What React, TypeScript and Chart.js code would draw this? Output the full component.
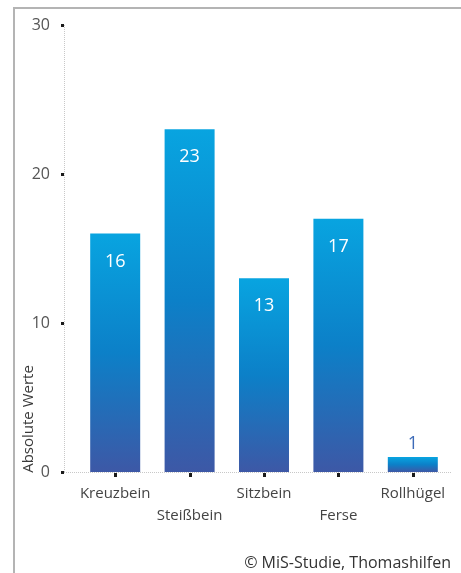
import React, { useEffect, useRef } from "react";
import { Chart, registerables } from "chart.js";

Chart.register(...registerables);

const categories = ["Kreuzbein", "Steißbein", "Sitzbein", "Ferse", "Rollhügel"];
const values = [16, 23, 13, 17, 1];
const yTicks = [0, 10, 20, 30];
const yTitle = "Absolute Werte";
const credit = "© MiS-Studie, Thomashilfen";

const FONT = "'Open Sans', 'Noto Sans', sans-serif";
const AXIS_X = 64;

const decor = {
  id: "decor",
  beforeDraw(chart: any) {
    const c = chart.ctx;
    const area = chart.chartArea;
    c.save();
    c.strokeStyle = "#b4b4b4";
    c.lineWidth = 2;
    c.beginPath();
    c.moveTo(14, 573);
    c.lineTo(14, 8);
    c.lineTo(461, 8);
    c.stroke();
    c.strokeStyle = "#c8c8c8";
    c.lineWidth = 1;
    c.setLineDash([1, 1]);
    c.beginPath();
    c.moveTo(AXIS_X + 0.5, area.top);
    c.lineTo(AXIS_X + 0.5, area.bottom);
    c.moveTo(AXIS_X, area.bottom + 0.5);
    c.lineTo(area.right + 2, area.bottom + 0.5);
    c.stroke();
    c.setLineDash([]);
    c.restore();
  },
  afterDatasetsDraw(chart: any) {
    const c = chart.ctx;
    const area = chart.chartArea;
    const ys = chart.scales.y;
    const xs = chart.scales.x;
    c.save();
    c.fillStyle = "#1a1a1a";
    yTicks.forEach((t) => {
      const py = ys.getPixelForValue(t);
      c.fillRect(AXIS_X - 3, Math.round(py) - 1, 3, 3);
    });
    categories.forEach((_, i) => {
      const px = xs.getPixelForValue(i);
      c.fillRect(Math.round(px) - 1, area.bottom + 1, 3, 4);
    });
    const meta = chart.getDatasetMeta(0);
    c.textAlign = "center";
    c.textBaseline = "middle";
    meta.data.forEach((bar: any, i: number) => {
      const v = values[i];
      c.font = `18px ${FONT}`;
      if (v >= 3) {
        c.fillStyle = "#ffffff";
        c.fillText(String(v), bar.x, bar.y + 28);
      } else {
        c.fillStyle = "#3d6bb8";
        c.fillText(String(v), bar.x, bar.y - 13);
      }
    });
    c.save();
    c.translate(29, 419);
    c.rotate(-Math.PI / 2);
    c.fillStyle = "#3a3a3a";
    c.font = `15px ${FONT}`;
    c.textAlign = "center";
    c.textBaseline = "middle";
    c.fillText(yTitle, 0, 0);
    c.restore();
    c.fillStyle = "#333333";
    c.font = `16px ${FONT}`;
    c.textAlign = "right";
    c.textBaseline = "middle";
    c.fillText(credit, 451, 563);
    c.restore();
  },
};

export default function App() {
  const ref = useRef<HTMLCanvasElement>(null);
  useEffect(() => {
    if (!ref.current) return;
    const chart = new Chart(ref.current, {
      type: "bar",
      data: {
        labels: categories,
        datasets: [
          {
            data: values,
            barPercentage: 0.672,
            categoryPercentage: 1,
            backgroundColor: (ctx: any) => {
              const ch = ctx.chart;
              if (!ch.chartArea || ctx.type !== "data") return "#0a8fd4";
              const ys = ch.scales.y;
              const top = ys.getPixelForValue(ctx.raw);
              const bottom = ys.getPixelForValue(0);
              const g = ch.ctx.createLinearGradient(0, top, 0, bottom);
              g.addColorStop(0, "#08a4e0");
              g.addColorStop(0.5, "#0c80c8");
              g.addColorStop(1, "#3d58a6");
              return g;
            },
            borderWidth: 0,
          },
        ],
      },
      options: {
        responsive: false,
        animation: false,
        layout: { padding: { left: 0, top: 25, right: 11, bottom: 0 } },
        plugins: {
          legend: { display: false },
          tooltip: { enabled: false },
        },
        scales: {
          x: {
            offset: true,
            grid: { display: false, drawTicks: false },
            border: { display: false },
            afterFit: (s: any) => {
              s.height = 101;
            },
            ticks: {
              autoSkip: false,
              maxRotation: 0,
              padding: 11,
              color: "#444444",
              font: { family: FONT, size: 15, lineHeight: 1.45 },
              callback: (_v: any, i: number) =>
                i % 2 === 1 ? ["", categories[i]] : categories[i],
            },
          },
          y: {
            min: 0,
            max: 30,
            grid: { display: false, drawTicks: false },
            border: { display: false },
            afterFit: (s: any) => {
              s.width = 78;
              s.paddingTop = 10;
              s.paddingBottom = 10;
            },
            afterBuildTicks: (s: any) => {
              s.ticks = yTicks.map((v) => ({ value: v }));
            },
            ticks: {
              padding: 28,
              color: "#555555",
              font: { family: FONT, size: 16 },
            },
          },
        },
      },
      plugins: [decor],
    });
    return () => chart.destroy();
  }, []);
  return (
    <div style={{ position: "fixed", left: 0, top: 0, width: 461, height: 573, background: "#fff" }}>
      <canvas ref={ref} width={461} height={573} />
    </div>
  );
}
